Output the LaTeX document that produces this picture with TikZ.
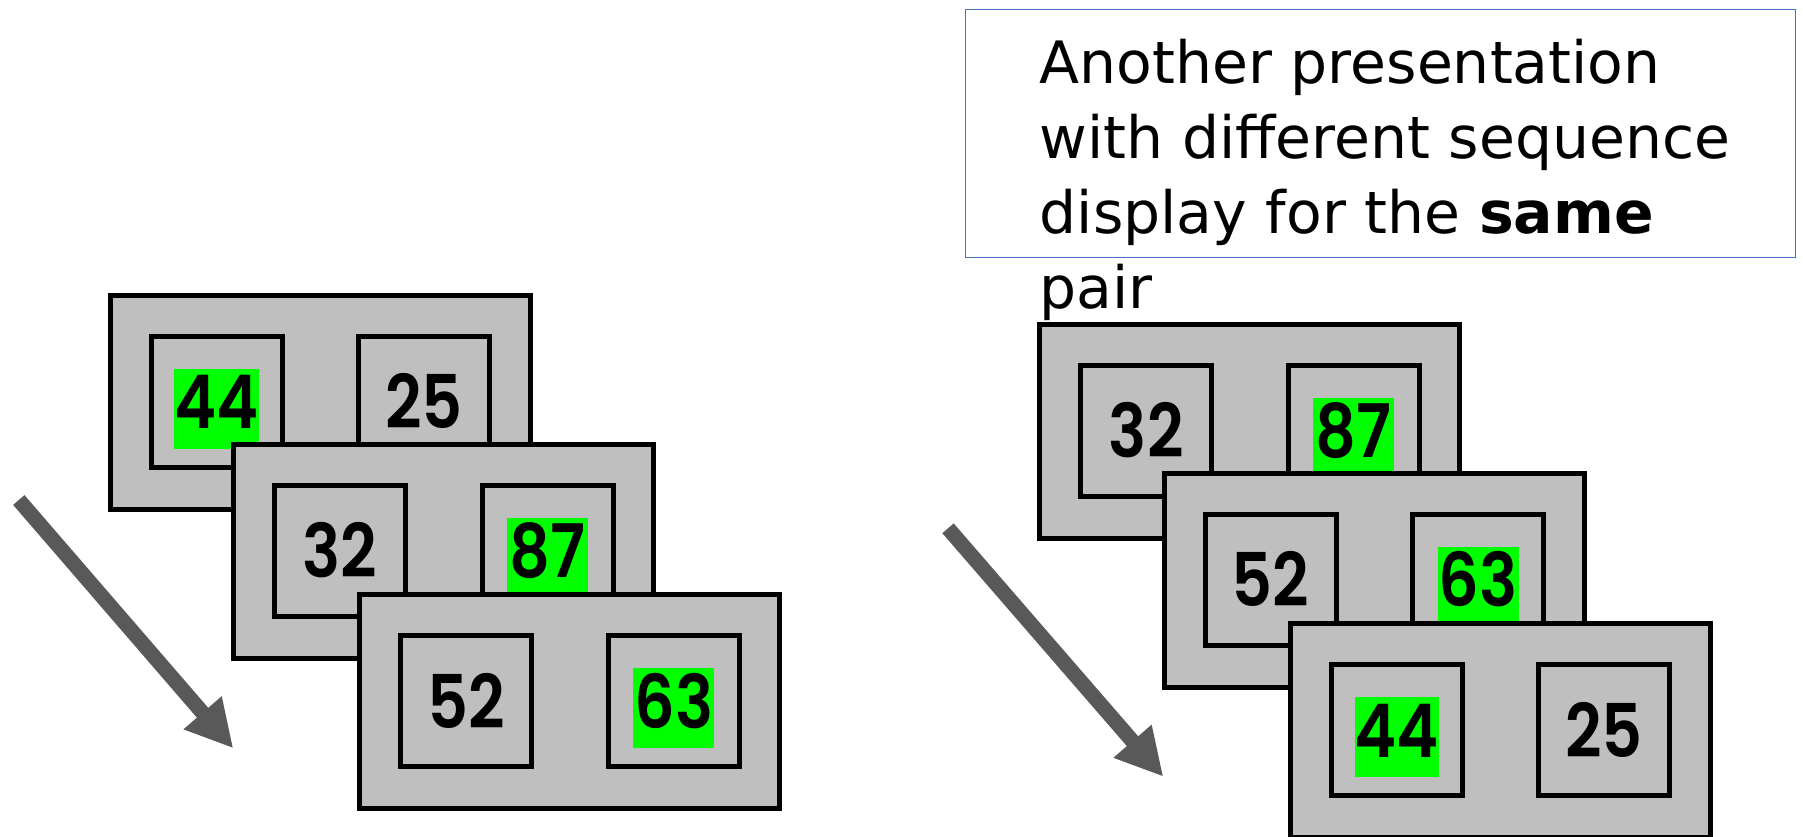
\documentclass[tikz,border=0pt]{standalone}
\usepackage{fontspec}
\usetikzlibrary{calc,arrows.meta}
\newfontfamily\digitfont{Poppins SemiBold}[FakeStretch=0.86]
\newfontfamily\notefont{DejaVu Sans}
\definecolor{panel}{HTML}{BFBFBF}
\definecolor{hitgreen}{HTML}{00FF00}
\definecolor{arrowgray}{HTML}{595959}
\definecolor{notebox}{HTML}{4472C4}

% one display screen: frame with two number cells
% #1 name, #2 north-west corner, #3/#4 left number and style, #5/#6 right number and style
\newcommand\drawscreen[6]{%
  \node[frame, anchor=north west] (#1) at (#2) {};
  \node[cell] (#1-l) at ($(#1.north west)+(106.5,106.5)$) {};
  \node[cell] (#1-r) at ($(#1.north west)+(314,106.5)$) {};
  \node[num, #4] (#1-ln) at ($(#1-l.center)+(0,27)$) {#3};
  \node[num, #6] (#1-rn) at ($(#1-r.center)+(0,27)$) {#5};
}

\begin{document}
\begin{tikzpicture}[x=1pt, y=-1pt,
  frame/.style={draw=black, fill=panel, line width=5pt, minimum width=420pt,
                minimum height=214pt, inner sep=0pt, outer sep=0pt},
  cell/.style={draw=black, fill=panel, line width=5pt, minimum width=131pt,
               minimum height=131pt, inner sep=0pt, outer sep=0pt},
  num/.style={font=\digitfont\fontsize{74}{74}\selectfont, anchor=base,
              text height=60pt, text depth=20pt, minimum width=81pt, inner sep=0pt},
  hit/.style={fill=hitgreen},
  plain/.style={},
  flow/.style={draw=arrowgray, line width=15pt,
               -{Triangle[length=47pt, width=47pt]}}]
\useasboundingbox (0,0) rectangle (1803,836);

% first sequence
\drawscreen{sa1}{110,295}{44}{hit}{25}{plain}
\drawscreen{sa2}{233.5,444}{32}{plain}{87}{hit}
\drawscreen{sa3}{359.8,594.8}{52}{plain}{63}{hit}

% second sequence
\drawscreen{sb1}{1039.8,324.2}{32}{plain}{87}{hit}
\drawscreen{sb2}{1164.2,473.2}{52}{plain}{63}{hit}
\drawscreen{sb3}{1290.2,623.5}{44}{hit}{25}{plain}

% time arrows
\coordinate (ta-start) at (18.8,500);
\coordinate (ta-end) at (233.3,748.3);
\coordinate (tb-start) at (948,528.3);
\coordinate (tb-end) at (1163.3,776.7);
\draw[flow] (ta-start) -- (ta-end);
\draw[flow] (tb-start) -- (tb-end);

% caption box, text runs past its lower edge
\node[draw=notebox, line width=1.3pt, anchor=north west, minimum width=830pt,
      minimum height=248.5pt, inner sep=0pt, outer sep=0pt] (note) at (965.5,9.2) {};
\node[anchor=base west, align=left, inner sep=0pt,
      font=\notefont\fontsize{58.4}{75}\selectfont] (notetext) at (1039.6,308)
  {Another presentation\\with different sequence\\display for the \textbf{same}\\pair};
\end{tikzpicture}
\end{document}
